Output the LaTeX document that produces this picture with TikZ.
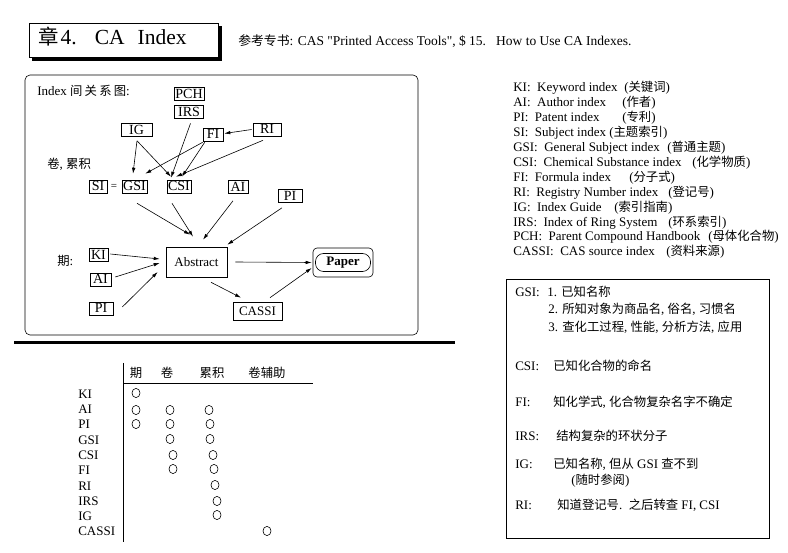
\documentclass[tikz,border=0pt]{standalone}
\usepackage{fontspec}
\setmainfont{Liberation Serif}[Ligatures=TeXOff]
\newfontfamily\cjk{Noto Sans CJK SC}[Scale=0.95]
\newfontfamily\cjkwide{Noto Sans CJK SC}[Scale=0.95, LetterSpace=18]
\newcommand\zh[1]{{\cjk #1}}
\newcommand\zhwide[1]{{\cjkwide #1}}
\usetikzlibrary{positioning,arrows.meta,calc}

\begin{document}
\begin{tikzpicture}[%
    x=1pt, y=-1pt,
    line width=0.6pt,
    font=\fontsize{13}{15}\selectfont,
    link/.style={%
      -{Latex[length=6pt,width=3.5pt]}
    },
    idx/.style={%
      draw,
      inner xsep=1pt, inner ysep=1pt,
      text height=10pt, text depth=1pt,
      font=\fontsize{14}{14}\selectfont
    },
    word/.style={anchor=base west, inner sep=0pt},
    head/.style={anchor=base, inner sep=0pt}
  ]
    \useasboundingbox (0,0) rectangle (788,553);

    % title and reference line
    \node[draw, minimum width=189pt, minimum height=34pt, inner sep=0pt, anchor=north west] (title) at (29,23) {};
    \fill ($(title.north east)+(0,3)$) rectangle ($(title.south east)+(3.5,3)$);
    \fill ($(title.south west)+(3,0)$) rectangle ($(title.south east)+(3.5,3)$);
    \node[word, font=\fontsize{21.5}{24}\selectfont] (chapter) at (38,45) {\zh{章}\hspace{2pt}4.\hspace{18pt}CA\hspace{13pt}Index};

    \node[word, font=\fontsize{13.5}{15}\selectfont] (book) at (238,46) {\zh{参考专书}: CAS "Printed Access Tools", \$ 15.\ \ \ How to Use CA Indexes.};

    % relation diagram
    \draw[rounded corners=5pt] (25,75) rectangle (418,335);

    \node[word] (caption) at (37,96) {Index \zhwide{间关系图}:};
    \node[word] (vol) at (47,169) {\zh{卷}, \zh{累积}};
    \node[word] (issue) at (57,266) {\zh{期}:};

    \node[idx, minimum width=30pt] (pch) at (189,94) {PCH};
    \node[idx, minimum width=29pt, below=4pt of pch] (irs) {IRS};
    \node[idx, minimum width=31pt] (ig) at (136.5,130) {IG};
    \node[idx, minimum width=20pt] (fi) at (213,134.5) {FI};
    \node[idx, minimum width=28pt] (ri) at (267,129.5) {RI};

    \node[idx, minimum width=18pt] (si) at (98,186.5) {SI};
    \node[inner sep=0pt, font=\fontsize{11}{11}\selectfont] (eq) at (114,186.5) {=};
    \node[idx, minimum width=25pt] (gsi) at (134.5,186.5) {GSI};
    \node[idx, minimum width=22pt] (csi) at (179,186.5) {CSI};
    \node[idx, minimum width=20pt] (ai) at (238,187) {AI};
    \node[idx, minimum width=24pt] (pi) at (290,196) {PI};

    \node[idx, minimum width=19pt] (ki) at (98.5,255) {KI};
    \node[idx, minimum width=21pt] (aiq) at (100.5,279.5) {AI};
    \node[idx, minimum width=24pt] (piq) at (101,308.5) {PI};

    \node[draw, minimum width=61pt, minimum height=30pt] (abstract) at (196.5,262) {Abstract};
    \node[draw, rounded corners=4pt, minimum width=60pt, minimum height=29pt] (paper) at (343,262.5) {};
    \node[draw, rounded corners=8pt, minimum width=55pt, minimum height=18pt, inner sep=0pt,
          font=\fontsize{13}{15}\selectfont\bfseries] (paperin) at (paper) {Paper};
    \node[draw, minimum width=49pt, minimum height=18pt] (cassi) at (257.5,311) {CASSI};

    \path[link] ($(irs.south)+(1.5,5)$) edge ($(csi.north)+(-8,-2)$)
          ($(ig.south)+(0.5,4)$) edge ($(gsi.north)+(-1.5,-6)$)
          ($(ig.south)+(0.5,4)$) edge ($(csi.north)+(-8,-3)$)
          ($(fi.south west)+(0,1)$) edge ($(gsi.north east)+(-2,-6)$)
          ($(fi.south west)+(2,1)$) edge ($(csi.north)+(3,-3)$)
          ($(ri.west)+(-1,0)$) edge ($(fi.east)+(1,-1)$)
          ($(ri.south)+(-4,4)$) edge ($(csi.north)+(-3,-3)$)

          ($(gsi.south)+(2.5,10)$) edge ($(abstract.north)+(-6.5,-12)$)
          ($(csi.south)+(-7,10)$) edge ($(abstract.north)+(-3.5,-10)$)
          ($(ai.south)+(-5,7)$) edge ($(abstract.north)+(6.5,-7)$)
          ($(pi.south)+(-8,5)$) edge ($(abstract.north east)+(0,-2)$)

          ($(ki.east)+(2,-1)$) edge ($(abstract.west)+(-6,-3)$)
          ($(aiq.east)+(4,-2.5)$) edge ($(abstract.west)+(-6,1)$)
          ($(piq.east)+(9,-1.5)$) edge ($(abstract.west)+(-8,10)$)

          ($(abstract.east)+(8,0)$) edge ($(paper.west)+(-1,0)$)
          ($(abstract.south)+(14.5,5)$) edge ($(cassi.north)+(-16.5,-4)$)
          ($(cassi.north)+(12.5,-4)$) edge ($(paper.west)+(-1,5.5)$);

    \draw[line width=3pt] (14,343) -- (455,343);

    % abbreviations
    \foreach \ab/\en/\px/\cn [count=\i from 0] in {%
        KI/Keyword index/624/关键词, AI/Author index/622/作者,
        PI/Patent index/622/专利, SI/Subject index/609/主题索引,
        GSI/General Subject index/667/普通主题, CSI/Chemical Substance index/692/化学物质,
        FI/Formula index/629/分子式, RI/Registry Number index/668/登记号,
        IG/Index Guide/614/索引指南, IRS/Index of Ring System/668/环系索引,
        PCH/Parent Compound Handbook/708/母体化合物, CASSI/CAS source index/666/资料来源}
    {
      \node[word] (key\i) at (513,{92+14.9*\i}) {\ab:\ \ \en};
      \node[word] (gloss\i) at (\px,{92+14.9*\i}) {(\zh{\cn})};
    }

    % table
    \draw (123,363) -- (123,542);
    \draw (123,383) -- (313,383);
    \node[head] (hissue) at (136,378) {\zh{期}};
    \node[head] (hvol) at (167,378) {\zh{卷}};
    \node[head] (hcum) at (212,378) {\zh{累积}};
    \node[head] (hsup) at (267,378) {\zh{卷辅助}};
    \foreach \ab [count=\i from 0] in {KI,AI,PI,GSI,CSI,FI,RI,IRS,IG,CASSI}
      \node[word] (row\i) at (78,{398.3+15.3*\i}) {\ab};
    \foreach \x/\y in {136/393, 136/410, 136/424,
                       170/410, 170/424, 170/439, 173/455, 173/469,
                       209/410, 210/424, 210/439, 213/455, 214/469, 215/485, 217/501, 217/515,
                       267/531}
      \draw (\x,\y) ellipse [x radius=4pt, y radius=4.6pt];

    % notes
    \draw (506,279) rectangle (769,538);
    \node[word] (ngsi) at (515,297) {GSI:};
    \node[word] (ngsia) at (547,297) {1. \zh{已知名称}};
    \node[word] (ngsib) at (548,314) {2. \zh{所知对象为商品名}, \zh{俗名}, \zh{习惯名}};
    \node[word] (ngsic) at (548,332) {3. \zh{查化工过程}, \zh{性能}, \zh{分析方法}, \zh{应用}};
    \node[word] (ncsi) at (515,371) {CSI:};
    \node[word] (ncsia) at (553,371) {\zh{已知化合物的命名}};
    \node[word] (nfi) at (515,407) {FI:};
    \node[word] (nfia) at (553,407) {\zh{知化学式}, \zh{化合物复杂名字不确定}};
    \node[word] (nirs) at (515,441) {IRS:};
    \node[word] (nirsa) at (556,441) {\zh{结构复杂的环状分子}};
    \node[word] (nig) at (515,469) {IG:};
    \node[word] (niga) at (553,469) {\zh{已知名称}, \zh{但从} GSI \zh{查不到}};
    \node[word] (nigb) at (571,485) {(\zh{随时参阅})};
    \node[word] (nri) at (515,509) {RI:};
    \node[word] (nria) at (557,509) {\zh{知道登记号}.\ \ \zh{之后转查} FI, CSI};
\end{tikzpicture}
\end{document}
